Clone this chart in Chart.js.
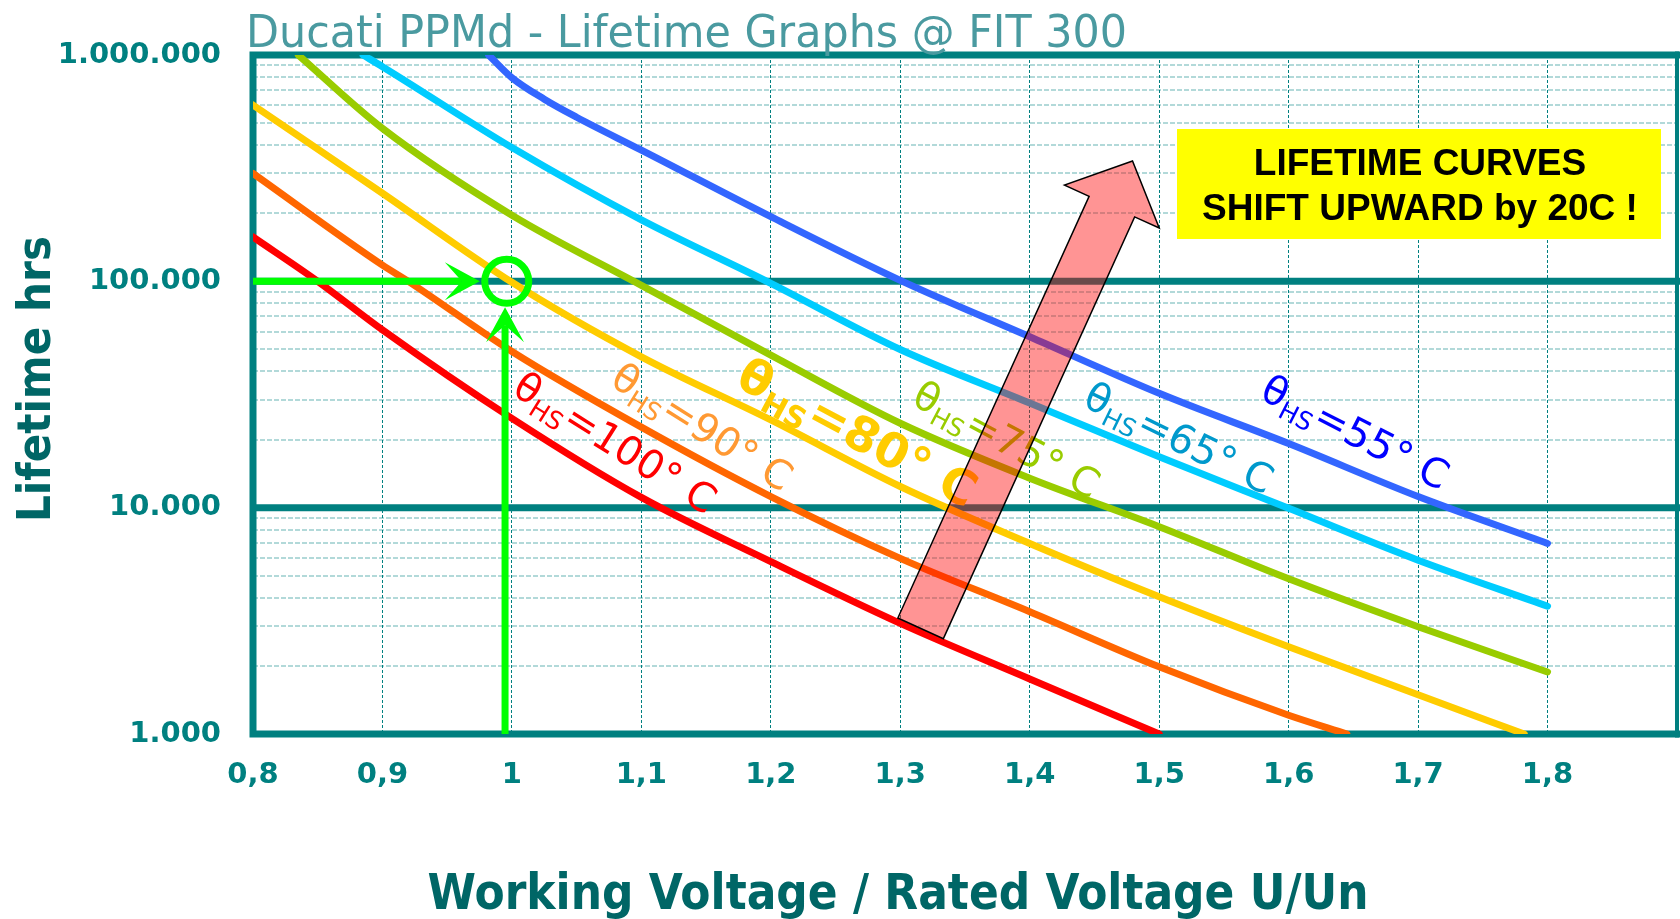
<!DOCTYPE html>
<html>
<head>
<meta charset="utf-8">
<title>Ducati PPMd - Lifetime Graphs @ FIT 300</title>
<script src="https://cdn.jsdelivr.net/npm/chart.js@4.4.1/dist/chart.umd.min.js"></script>
<style>
  html, body { margin: 0; padding: 0; background: #fff; }
  #wrap { width: 1680px; height: 919px; position: relative; }
</style>
</head>
<body>
<div id="wrap"><canvas id="lifeChart"></canvas></div>
<script>
// hot-spot temperature of each curve, degrees C
const temps = [100, 90, 80, 75, 65, 55];

// U/Un and lifetime in hours
const volt100 = [0.8, 0.85, 0.9, 1.0, 1.1, 1.2, 1.3, 1.4, 1.5];
const life100 = [157000, 100000, 61000, 24800, 11100, 5770, 3080, 1750, 1000];

const volt90 = [0.8, 0.9, 0.92, 1.0, 1.1, 1.2, 1.3, 1.4, 1.5, 1.6, 1.645];
const life90 = [300000, 118000, 100000, 49000, 22700, 11200, 5970, 3470, 1980, 1210, 1000];

const volt80 = [0.8, 0.9, 1.0, 1.1, 1.2, 1.3, 1.4, 1.5, 1.6, 1.7, 1.782];
const life80 = [601000, 245000, 99000, 46400, 24400, 12400, 6950, 4040, 2430, 1490, 1000];

const volt75 = [0.835, 0.9, 1.0, 1.1, 1.2, 1.3, 1.4, 1.5, 1.6, 1.7, 1.8];
const life75 = [1000000, 474000, 196000, 96000, 47200, 23600, 13500, 8240, 4850, 2980, 1880];

const volt65 = [0.885, 0.9, 1.0, 1.1, 1.2, 1.3, 1.4, 1.5, 1.6, 1.7, 1.8];
const life65 = [1000000, 888000, 390000, 187000, 98000, 50000, 29000, 16800, 9930, 5860, 3670];

const volt55 = [0.982, 1.0, 1.025, 1.05, 1.1, 1.2, 1.3, 1.4, 1.5, 1.6, 1.7, 1.8];
const life55 = [1000000, 794000, 638000, 531000, 380000, 193000, 101000, 56900, 32000, 19200, 11200, 6950];

// operating point (rated voltage, 100.000 h) and the two guide arrows to it
const opVolt = [0.996];
const opLife = [100000];
const hGuideVolt = [0.8, 0.9613];
const hGuideLife = [100000, 100000];
const vGuideVolt = [0.9947, 0.9947];
const vGuideLife = [1000, 64000];

// axis ticks
const xTickValues = [0.8, 0.9, 1.0, 1.1, 1.2, 1.3, 1.4, 1.5, 1.6, 1.7, 1.8, 1.9];
const xTickLabels = ['0,8', '0,9', '1', '1,1', '1,2', '1,3', '1,4', '1,5', '1,6', '1,7', '1,8', ''];
const yMajorTicks = [1000, 10000, 100000, 1000000];
const yMajorLabels = ['1.000', '10.000', '100.000', '1.000.000'];

const yTickValues = [];
for (let d = 1000; d < 1000000; d *= 10) {
    for (let m = 1; m < 10; m++) yTickValues.push(m * d);
}
yTickValues.push(1000000);

const TEAL = '#008080';
const DARK_TEAL = '#006666';
const GREEN = '#00ff00';
const FAMILY = '"DejaVu Sans", Verdana, sans-serif';

const curveVolts = [volt100, volt90, volt80, volt75, volt65, volt55];
const curveLives = [life100, life90, life80, life75, life65, life55];
const curveColors = ['#ff0000', '#ff6600', '#ffcc00', '#99cc00', '#00ccff', '#3366ff'];

// where each "θHS=..° C" label sits (centre of the θ, in axis units) and how it is drawn
const labelSpots = [
    { at: [1.0132, 34100], angle: 32, color: '#ff0000', size: 40, bold: false },
    { at: [1.0889, 37400], angle: 32, color: '#ff9933', size: 40, bold: false },
    { at: [1.1893, 37800], angle: 28, color: '#ffcc00', size: 48, bold: true },
    { at: [1.3214, 31100], angle: 28, color: '#99cc00', size: 40, bold: false },
    { at: [1.4535, 30800], angle: 26, color: '#0099cc', size: 40, bold: false },
    { at: [1.5903, 33100], angle: 27, color: '#0000ff', size: 40, bold: false }
];

// big shift arrow, tail and tip in axis units
const shiftTail = [1.3157, 2930];
const shiftTip = [1.4794, 340000];

function pts(xs, ys) {
    return xs.map((v, i) => ({ x: v, y: ys[i] }));
}

function drawHead(ctx, el, prev) {
    // stealth head: shaft ends at the notch, tip 18px further on
    const dx = el.x - prev.x, dy = el.y - prev.y;
    const len = Math.hypot(dx, dy);
    const ux = dx / len, uy = dy / len, nx = -uy, ny = ux;
    const tx = el.x + ux * 18, ty = el.y + uy * 18;
    ctx.beginPath();
    ctx.moveTo(tx, ty);
    ctx.lineTo(tx - ux * 35 + nx * 19, ty - uy * 35 + ny * 19);
    ctx.lineTo(el.x, el.y);
    ctx.lineTo(tx - ux * 35 - nx * 19, ty - uy * 35 - ny * 19);
    ctx.closePath();
    ctx.fill();
}

function drawCurveLabel(ctx, cx, cy, spot, temp) {
    const w = spot.bold ? 'bold ' : '';
    const size = spot.size;
    ctx.save();
    ctx.translate(cx, cy);
    ctx.rotate(spot.angle * Math.PI / 180);
    ctx.fillStyle = spot.color;
    ctx.textAlign = 'left';
    ctx.textBaseline = 'alphabetic';
    ctx.font = w + size + 'px ' + FAMILY;
    const thW = ctx.measureText('θ').width;
    const base = size * 0.38;
    let px = -thW / 2;
    ctx.fillText('θ', px, base);
    px += thW;
    ctx.font = w + Math.round(size * 0.62) + 'px ' + FAMILY;
    ctx.fillText('HS', px, base + size * 0.2);
    px += ctx.measureText('HS').width;
    ctx.font = w + size + 'px ' + FAMILY;
    ctx.fillText('=' + temp + '° C', px, base);
    ctx.restore();
}

const decor = {
    id: 'decor',
    beforeDatasetsDraw(chart) {
        const { ctx, chartArea: a, scales: { y } } = chart;
        ctx.save();
        ctx.strokeStyle = TEAL;
        ctx.lineWidth = 7;
        ctx.lineCap = 'square';
        ctx.beginPath();
        yMajorTicks.slice(1, -1).forEach(v => {
            const py = y.getPixelForValue(v);
            ctx.moveTo(a.left, py);
            ctx.lineTo(a.right, py);
        });
        ctx.moveTo(a.right, a.top);
        ctx.lineTo(a.left, a.top);
        ctx.lineTo(a.left, a.bottom);
        ctx.lineTo(a.right, a.bottom);
        ctx.stroke();
        ctx.lineWidth = 4;
        ctx.lineCap = 'butt';
        ctx.beginPath();
        ctx.moveTo(a.right, a.top - 3.5);
        ctx.lineTo(a.right, a.bottom + 3.5);
        ctx.stroke();
        ctx.restore();
    },
    afterDatasetsDraw(chart) {
        const { ctx, scales: { x, y } } = chart;
        ctx.save();

        // green arrow heads on the guide lines
        ctx.fillStyle = GREEN;
        [0, 1].forEach(i => {
            const pts = chart.getDatasetMeta(i).data;
            drawHead(ctx, pts[pts.length - 1], pts[pts.length - 2]);
        });

        // curve labels
        labelSpots.forEach((s, i) => {
            drawCurveLabel(ctx, x.getPixelForValue(s.at[0]), y.getPixelForValue(s.at[1]), s, temps[i]);
        });

        // yellow note
        ctx.fillStyle = '#ffff00';
        ctx.fillRect(1177, 129, 484, 110);
        ctx.fillStyle = '#000';
        ctx.font = 'bold 37px "Liberation Sans", Arial, sans-serif';
        ctx.textAlign = 'center';
        ctx.textBaseline = 'alphabetic';
        ctx.fillText('LIFETIME CURVES', 1420, 175);
        ctx.fillText('SHIFT UPWARD by 20C !', 1420, 220);

        // translucent shift arrow
        const t = { x: x.getPixelForValue(shiftTail[0]), y: y.getPixelForValue(shiftTail[1]) };
        const h = { x: x.getPixelForValue(shiftTip[0]), y: y.getPixelForValue(shiftTip[1]) };
        const len = Math.hypot(h.x - t.x, h.y - t.y);
        const ux = (h.x - t.x) / len, uy = (h.y - t.y) / len, nx = -uy, ny = ux;
        const sw = 25, hw = 52, hl = 50;
        const bx = h.x - ux * hl, by = h.y - uy * hl;
        ctx.beginPath();
        ctx.moveTo(t.x + nx * sw, t.y + ny * sw);
        ctx.lineTo(bx + nx * sw, by + ny * sw);
        ctx.lineTo(bx + nx * hw, by + ny * hw);
        ctx.lineTo(h.x, h.y);
        ctx.lineTo(bx - nx * hw, by - ny * hw);
        ctx.lineTo(bx - nx * sw, by - ny * sw);
        ctx.lineTo(t.x - nx * sw, t.y - ny * sw);
        ctx.closePath();
        ctx.fillStyle = 'rgba(255, 0, 0, 0.42)';
        ctx.fill();
        ctx.strokeStyle = '#000';
        ctx.lineWidth = 1.5;
        ctx.stroke();
        ctx.restore();
    },
    afterDraw(chart) {
        const ctx = chart.ctx;
        ctx.save();
        ctx.textBaseline = 'alphabetic';

        ctx.fillStyle = '#4a9aa0';
        ctx.textAlign = 'left';
        ctx.font = '45px ' + FAMILY;
        ctx.fillText('Ducati PPMd - Lifetime Graphs @ FIT 300', 246, 47, 881);

        ctx.fillStyle = DARK_TEAL;
        ctx.textAlign = 'center';
        ctx.font = 'bold 49px ' + FAMILY;
        ctx.fillText('Working Voltage / Rated Voltage U/Un', 898, 909, 941);

        ctx.translate(50, 379);
        ctx.rotate(-Math.PI / 2);
        ctx.font = 'bold 47px ' + FAMILY;
        ctx.fillText('Lifetime hrs', 0, 0, 286);
        ctx.restore();
    }
};

const datasets = [
    { data: pts(hGuideVolt, hGuideLife), borderColor: GREEN, borderWidth: 7, pointRadius: 0, order: 0 },
    { data: pts(vGuideVolt, vGuideLife), borderColor: GREEN, borderWidth: 7, pointRadius: 0, order: 0 },
    {
        data: pts(opVolt, opLife), showLine: false, order: 0,
        pointRadius: 22, pointBorderWidth: 7, pointBorderColor: GREEN,
        pointBackgroundColor: 'rgba(0,0,0,0)'
    }
];
temps.forEach((t, i) => {
    datasets.push({
        label: 'θHS=' + t + '° C',
        data: pts(curveVolts[i], curveLives[i]),
        borderColor: curveColors[i],
        borderWidth: 7,
        pointRadius: 0,
        cubicInterpolationMode: 'monotone',
        borderCapStyle: 'round',
        borderJoinStyle: 'round',
        order: 1
    });
});

const tickFont = { family: FAMILY, size: 29, weight: 'bold' };

new Chart(document.getElementById('lifeChart'), {
    type: 'line',
    data: { datasets: datasets },
    options: {
        responsive: true,
        maintainAspectRatio: false,
        animation: false,
        devicePixelRatio: 1,
        layout: { autoPadding: false, padding: { top: 55, right: 3, bottom: 0, left: 0 } },
        plugins: {
            legend: { display: false },
            tooltip: { enabled: false },
            title: { display: false }
        },
        scales: {
            x: {
                type: 'linear',
                min: 0.8,
                max: 1.9,
                afterBuildTicks: (axis) => { axis.ticks = xTickValues.map(v => ({ value: v })); },
                afterFit: (axis) => {
                    axis.height = 185;
                    axis.paddingLeft = 0;
                    axis.paddingRight = 0;
                },
                ticks: {
                    autoSkip: false, maxRotation: 0, minRotation: 0, padding: 24,
                    color: TEAL, font: tickFont,
                    callback: (v, i) => xTickLabels[i]
                },
                grid: { color: TEAL, lineWidth: 1, drawTicks: false },
                border: { display: false, dash: [3, 2] }
            },
            y: {
                type: 'logarithmic',
                min: 1000,
                max: 1000000,
                afterBuildTicks: (axis) => { axis.ticks = yTickValues.map(v => ({ value: v })); },
                afterFit: (axis) => {
                    axis.width = 253;
                    axis.paddingTop = 0;
                    axis.paddingBottom = 0;
                },
                ticks: {
                    autoSkip: false, padding: 32, color: TEAL, font: tickFont,
                    callback: (v) => {
                        const k = yMajorTicks.indexOf(v);
                        return k < 0 ? '' : yMajorLabels[k];
                    }
                },
                grid: {
                    color: (c) => (c.tick && yMajorTicks.includes(c.tick.value)) ? 'rgba(0,0,0,0)' : 'rgba(0,128,128,0.3)',
                    lineWidth: 2,
                    drawTicks: false
                },
                border: { display: false, dash: [5, 2] }
            }
        }
    },
    plugins: [decor]
});
</script>
</body>
</html>
